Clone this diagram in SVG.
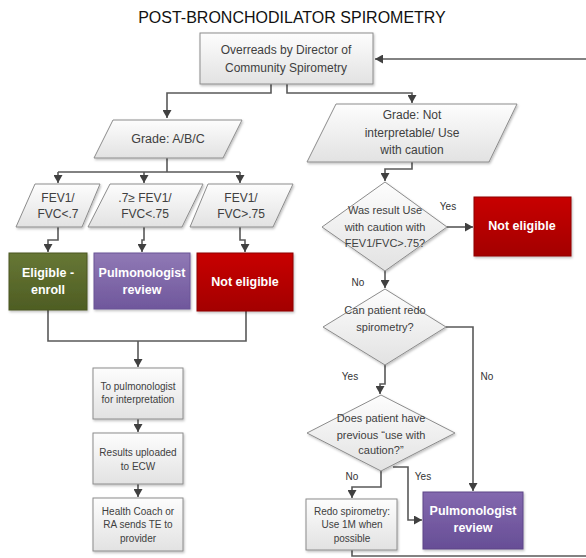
<svg xmlns="http://www.w3.org/2000/svg" width="586" height="558" viewBox="0 0 586 558">
<style>
text{font-family:"Liberation Sans",Arial,sans-serif;text-anchor:middle;fill:#404040}
.t{font-size:16px;fill:#111}
.m{font-size:12px}
.s{font-size:10px}
.d{font-size:11px}
.w{font-size:12.5px;font-weight:bold;fill:#fff}
.lb{font-size:10px;fill:#333}
.g{fill:url(#gg);stroke:#8c8c8c;stroke-width:1;filter:url(#sh)}
.c{fill:none;stroke:#595959;stroke-width:1.6}
.a{marker-end:url(#ar)}
</style>
<defs>
<linearGradient id="gg" x1="0" y1="0" x2="0" y2="1"><stop offset="0" stop-color="#fdfdfd"/><stop offset="1" stop-color="#e2e2e2"/></linearGradient>
<linearGradient id="gr" x1="0" y1="0" x2="0" y2="1"><stop offset="0" stop-color="#677735"/><stop offset="1" stop-color="#4e5d23"/></linearGradient>
<linearGradient id="pu" x1="0" y1="0" x2="0" y2="1"><stop offset="0" stop-color="#9079b5"/><stop offset="1" stop-color="#6f579c"/></linearGradient>
<linearGradient id="pu2" x1="0" y1="0" x2="0" y2="1"><stop offset="0" stop-color="#8368ae"/><stop offset="1" stop-color="#674e96"/></linearGradient>
<linearGradient id="rd" x1="0" y1="0" x2="0" y2="1"><stop offset="0" stop-color="#c80000"/><stop offset="1" stop-color="#a30000"/></linearGradient>
<filter id="sh" x="-10%" y="-10%" width="125%" height="130%"><feDropShadow dx="1" dy="1.5" stdDeviation="1" flood-color="#000" flood-opacity="0.25"/></filter>
<marker id="ar" markerUnits="userSpaceOnUse" markerWidth="9" markerHeight="9" refX="8" refY="4.5" orient="auto"><path d="M0,0 L8,4.5 L0,9 z" fill="#404040"/></marker>
</defs>

<text class="t" x="292" y="23">POST-BRONCHODILATOR SPIROMETRY</text>

<g id="connectors">
<path class="c a" d="M586,59 H375"/>
<path class="c a" d="M271,84 V93 H167 V118"/>
<path class="c a" d="M287,84 V93 H412 V103"/>
<path class="c" d="M167,158 V172 M58,172 H240"/>
<path class="c a" d="M58,172 V183"/>
<path class="c a" d="M144,172 V183"/>
<path class="c a" d="M240,172 V183"/>
<path class="c a" d="M58,227 V240 H48 V252"/>
<path class="c a" d="M144,227 V240 H142 V252"/>
<path class="c a" d="M240,227 V240 H245 V252"/>
<path class="c" d="M48,310 V341 H246 V311"/>
<path class="c a" d="M138,341 V367"/>
<path class="c a" d="M138,419 V432"/>
<path class="c a" d="M138,484 V497"/>
<path class="c a" d="M412,162 V169 H385 V181"/>
<path class="c a" d="M447,227 H473"/>
<path class="c a" d="M385,271 V288"/>
<path class="c a" d="M446,327 H473 V491"/>
<path class="c a" d="M385,365 V384 H380 V394"/>
<path class="c a" d="M381,471 V487 H352 V498"/>
<path class="c a" d="M393,467 H408 V520 H422"/>
<path class="c" d="M352,550 V556 H586"/>
</g>
<g id="labels">
<text class="lb" x="448" y="210">Yes</text>
<text class="lb" x="358" y="286">No</text>
<text class="lb" x="350" y="380">Yes</text>
<text class="lb" x="487" y="380">No</text>
<text class="lb" x="352" y="480">No</text>
<text class="lb" x="423" y="480">Yes</text>
</g>

<g id="overreads">
<rect class="g" x="200" y="33" width="173" height="51"/>
<text class="m" x="286" y="54">Overreads by Director of</text>
<text class="m" x="286" y="72">Community Spirometry</text>
</g>
<g id="gradeABC">
<polygon class="g" points="113,120 242,120 223,158 94,158"/>
<text class="m" x="168" y="143" style="font-size:12.5px">Grade: A/B/C</text>
</g>
<g id="fev1">
<polygon class="g" points="35,184 100,184 82,227 16,227"/>
<text class="m" x="58" y="202">FEV1/</text>
<text class="m" x="58" y="218">FVC&lt;.7</text>
</g>
<g id="fev2">
<polygon class="g" points="110,184 203,184 182,227 88,227"/>
<text class="m" x="145" y="202">.7≥ FEV1/</text>
<text class="m" x="145" y="218">FVC&lt;.75</text>
</g>
<g id="fev3">
<polygon class="g" points="208,184 293,184 273,227 190,227"/>
<text class="m" x="241" y="202">FEV1/</text>
<text class="m" x="241" y="218">FVC&gt;.75</text>
</g>
<g id="eligible">
<rect x="9" y="253" width="78" height="57" fill="url(#gr)" stroke="#4a5722" filter="url(#sh)"/>
<text class="w" x="48" y="277">Eligible -</text>
<text class="w" x="48" y="294">enroll</text>
</g>
<g id="pulmo1">
<rect x="94" y="253" width="96" height="56" fill="url(#pu)" stroke="#6a5496" filter="url(#sh)"/>
<text class="w" x="142" y="277">Pulmonologist</text>
<text class="w" x="142" y="294">review</text>
</g>
<g id="noteligible1">
<rect x="197" y="253" width="96" height="58" fill="url(#rd)" stroke="#900000" filter="url(#sh)"/>
<text class="w" x="245" y="286">Not eligible</text>
</g>
<g id="topulmo">
<rect class="g" x="93" y="368" width="90" height="51"/>
<text class="s" x="138" y="389.5">To pulmonologist</text>
<text class="s" x="138" y="402.5">for interpretation</text>
</g>
<g id="uploaded">
<rect class="g" x="93" y="433" width="90" height="51"/>
<text class="s" x="138" y="455.5">Results uploaded</text>
<text class="s" x="138" y="469.5">to ECW</text>
</g>
<g id="coach">
<rect class="g" x="93" y="498" width="90" height="53"/>
<text class="s" x="138" y="514.5">Health Coach or</text>
<text class="s" x="138" y="527.5">RA sends TE to</text>
<text class="s" x="138" y="541.5">provider</text>
</g>
<g id="gradeNot">
<polygon class="g" points="336,104 517,104 489,162 307,162"/>
<text class="m" x="412" y="119">Grade: Not</text>
<text class="m" x="412" y="137">interpretable/ Use</text>
<text class="m" x="412" y="154">with caution</text>
</g>
<g id="q1">
<polygon class="g" points="385,182 447,227 385,271 322,227"/>
<text class="d" x="385" y="214">Was result Use</text>
<text class="d" x="385" y="231">with caution with</text>
<text class="d" x="385" y="247">FEV1/FVC&gt;.75?</text>
</g>
<g id="noteligible2">
<rect x="474" y="197" width="97" height="59" fill="url(#rd)" stroke="#900000" filter="url(#sh)"/>
<text class="w" x="522" y="230">Not eligible</text>
</g>
<g id="q2">
<polygon class="g" points="385,289 446,327 385,365 323,327"/>
<text class="d" x="385" y="314">Can patient redo</text>
<text class="d" x="385" y="331">spirometry?</text>
</g>
<g id="q3">
<polygon class="g" points="381,395 455,433 381,471 307,433"/>
<text class="d" x="381" y="422">Does patient have</text>
<text class="d" x="381" y="439">previous “use with</text>
<text class="d" x="381" y="454">caution?”</text>
</g>
<g id="redo">
<rect class="g" x="306" y="499" width="91" height="51"/>
<text class="s" x="352" y="515">Redo spirometry:</text>
<text class="s" x="352" y="528">Use 1M when</text>
<text class="s" x="352" y="541.5">possible</text>
</g>
<g id="pulmo2">
<rect x="423" y="492" width="100" height="57" fill="url(#pu2)" stroke="#5e4688" filter="url(#sh)"/>
<text class="w" x="473" y="515">Pulmonologist</text>
<text class="w" x="473" y="532">review</text>
</g>
</svg>
